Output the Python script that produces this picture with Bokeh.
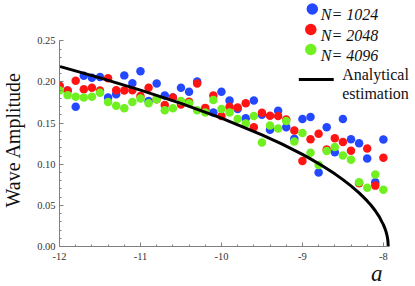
import math
from bokeh.plotting import figure
from bokeh.models import FixedTicker, CustomJSTickFormatter, Label, ColumnDataSource, Title
from bokeh.embed import file_html
from bokeh.resources import INLINE

# ---------------- data ----------------
a_values = [-12.0, -11.9, -11.8, -11.7, -11.6, -11.5, -11.4, -11.3, -11.2, -11.1,
            -11.0, -10.9, -10.8, -10.7, -10.6, -10.5, -10.4, -10.3, -10.2, -10.1,
            -10.0, -9.9, -9.8, -9.7, -9.6, -9.5, -9.4, -9.3, -9.2, -9.1,
            -9.0, -8.9, -8.8, -8.7, -8.6, -8.5, -8.4, -8.3, -8.2, -8.1, -8.0]

amp_n1024 = [0.1955, 0.1895, 0.170, 0.2075, 0.205, 0.206, 0.181, 0.185, 0.208, 0.1985,
             0.213, 0.177, 0.198, 0.1835, 0.181, 0.193, 0.188, 0.2005, 0.166, 0.163,
             0.188, 0.1775, 0.167, 0.156, 0.1775, 0.160, 0.142, 0.165, 0.145, 0.131,
             0.155, 0.1575, 0.090, 0.145, 0.1145, 0.155, 0.1305, 0.1255, 0.107, 0.078, 0.130]

amp_n2048 = [0.1955, 0.1895, 0.2015, 0.191, 0.193, 0.1895, 0.2045, 0.190, 0.1895, 0.190,
             0.183, 0.193, 0.179, 0.172, 0.181, 0.1725, 0.176, 0.198, 0.1685, 0.1835,
             0.1585, 0.170, 0.169, 0.174, 0.145, 0.1625, 0.159, 0.1585, 0.1545, 0.141,
             0.104, 0.1305, 0.137, 0.118, 0.1315, 0.127, 0.1165, 0.077, 0.119, 0.074, 0.108]

amp_n4096 = [0.1895, 0.184, 0.182, 0.181, 0.182, 0.187, 0.1755, 0.171, 0.168, 0.1755,
             0.180, 0.174, 0.179, 0.1655, 0.168, 0.177, 0.174, 0.1655, 0.163, 0.178,
             0.167, 0.163, 0.155, 0.1495, 0.1585, 0.1265, 0.147, 0.1435, 0.1525, 0.1275,
             0.138, 0.114, 0.099, 0.116, 0.121, 0.1105, 0.1055, 0.078, 0.0715, 0.0875, 0.069]

analytic_a = [-12.0, -11.5, -11.0, -10.5, -10.0, -9.5, -9.25, -9.0, -8.9, -8.75, -8.6,
              -8.5, -8.4, -8.3, -8.2, -8.15, -8.1, -8.05, -8.02, -8.0, -7.98,
              -7.97, -7.96, -7.95, -7.945, -7.94]
analytic_amp = [0.219, 0.205, 0.190, 0.174, 0.156, 0.1358, 0.1244, 0.1119, 0.1065, 0.0978, 0.0883,
                0.0813, 0.0737, 0.0652, 0.0554, 0.0498, 0.0435, 0.0360, 0.0302, 0.0266, 0.0217,
                0.0188, 0.0154, 0.0109, 0.0077, 0.0]

series_labels = ["N= 1024", "N= 2048", "N= 4096"]
series_colors = ["#2448ff", "#ff1414", "#70f020"]
analytic_label = ["Analytical", "estimation"]

x_major_ticks = [-12, -11, -10, -9, -8]
x_minor_ticks = [-12.0, -11.8, -11.6, -11.4, -11.2, -11.0, -10.8, -10.6, -10.4, -10.2,
                 -10.0, -9.8, -9.6, -9.4, -9.2, -9.0, -8.8, -8.6, -8.4, -8.2, -8.0]
y_major_ticks = [0.0, 0.05, 0.10, 0.15, 0.20, 0.25]
y_minor_ticks = [round(0.01 * i, 2) for i in range(26)]

# ---------------- layout ----------------
W, H = 415, 286
LEFT, BOTTOM = 58, 40
X0 = -12.0
PX_A = 81.2          # pixels per unit of a
PX_Y = 822.7         # pixels per unit of amplitude
FRAME_H = H - BOTTOM
Y_TOP = FRAME_H / PX_Y
X_END = X0 + (W - LEFT) / PX_A


def fx(px):  # figure x pixel -> data
    return X0 + (px - LEFT) / PX_A


def fy(py):  # figure y pixel (from top) -> data
    return Y_TOP - py / PX_Y


p = figure(width=W, height=H, x_range=(X0, X_END), y_range=(0, Y_TOP),
           output_backend="svg", toolbar_location=None, title=None,
           min_border_left=LEFT, min_border_right=0, min_border_top=0,
           min_border_bottom=BOTTOM)
p.outline_line_color = None
p.grid.visible = False
p.background_fill_color = "white"
p.border_fill_color = "white"

axis_col = "#808080"
for ax in (p.xaxis[0], p.yaxis[0]):
    ax.axis_line_color = axis_col
    ax.major_tick_line_color = axis_col
    ax.minor_tick_line_color = axis_col
    ax.major_tick_in = 4
    ax.major_tick_out = 0
    ax.minor_tick_in = 2
    ax.minor_tick_out = 0
    ax.major_label_text_font = "Liberation Serif"
    ax.major_label_text_font_size = "10.5px"
    ax.major_label_text_color = "#333333"

p.xaxis.ticker = FixedTicker(ticks=x_major_ticks, minor_ticks=x_minor_ticks)
p.yaxis.ticker = FixedTicker(ticks=y_major_ticks, minor_ticks=y_minor_ticks)
p.xaxis.formatter = CustomJSTickFormatter(code="return tick.toFixed(0);")
p.yaxis.formatter = CustomJSTickFormatter(code="return tick.toFixed(2);")
p.xaxis.bounds = (-12, -7.93)
p.yaxis.bounds = (0, 0.25)
p.xaxis.major_label_standoff = 6
p.yaxis.major_label_standoff = 4

# data series
for vals, col in zip([amp_n1024, amp_n2048, amp_n4096], series_colors):
    src = ColumnDataSource(dict(a=a_values, amp=vals))
    p.scatter("a", "amp", source=src, size=8.5, fill_color=col, line_color=None)

p.line(analytic_a, analytic_amp, line_color="black", line_width=3, line_join="round")

# legend (manual)
leg_px = [(311.5, 8.5), (310, 29), (310, 49)]
leg_base = [14, 35, 55]
for (lx, ly), by, col, lab in zip(leg_px, leg_base, series_colors, series_labels):
    p.scatter([fx(lx)], [fy(ly)], size=11.5, fill_color=col, line_color=None)
    p.add_layout(Label(x=fx(320), y=fy(by), text=lab, text_font="Liberation Serif",
                       text_font_style="italic", text_font_size="16px",
                       text_baseline="alphabetic", text_align="left", text_color="#111111"))
p.line([fx(298), fx(333)], [fy(79), fy(79)], line_color="black", line_width=3)
for t, by in zip(analytic_label, [74, 93.3]):
    p.add_layout(Label(x=fx(341.5), y=fy(by), text=t, text_font="Liberation Serif",
                       text_font_size="16px", text_baseline="alphabetic", text_align="left",
                       text_color="#111111"))

# axis titles (a thin spacer panel pushes the y title outward)
p.add_layout(Title(text=" ", standoff=6, text_font_size="2px"), "left")
p.add_layout(Title(text="Wave Amplitude", align="left", offset=39, standoff=0,
                   vertical_align="middle",
                   text_font="Liberation Serif", text_font_size="20px",
                   text_font_style="normal", text_color="#111111"), "left")
p.add_layout(Title(text="a", align="left", offset=311.5, standoff=-8,
                   text_font="Liberation Serif", text_font_style="italic",
                   text_font_size="23px", text_color="#111111"), "below")

open("out.html", "w").write(file_html(p, INLINE))
